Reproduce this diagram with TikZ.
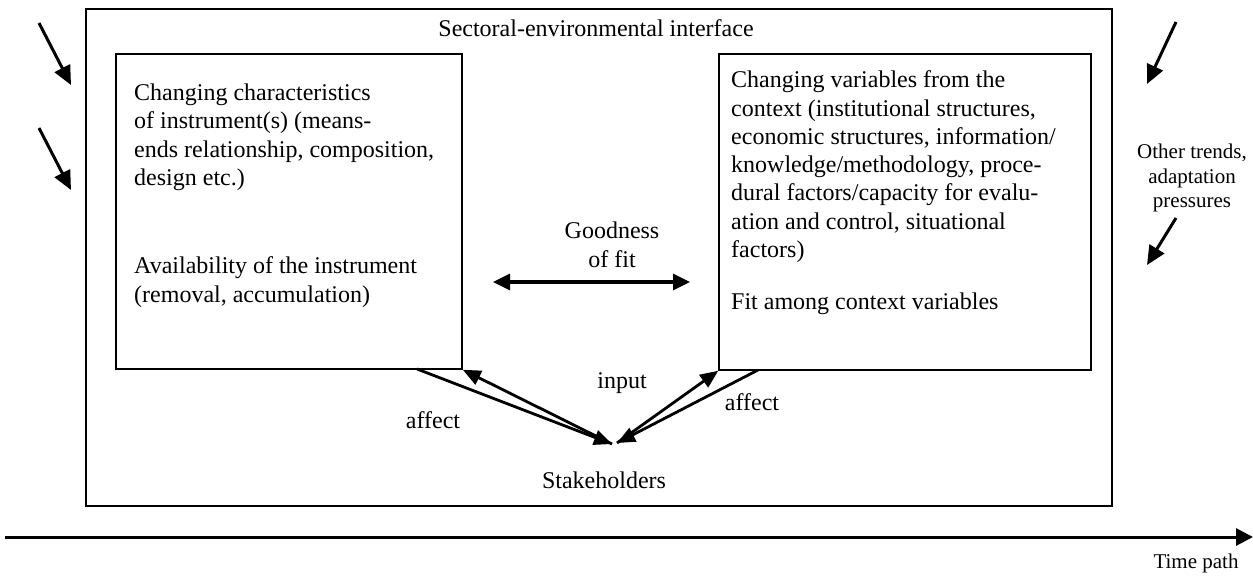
\documentclass[tikz,border=0pt]{standalone}
\usepackage{fontspec}
\setmainfont{Liberation Serif}
\usetikzlibrary{arrows.meta}
\begin{document}
\begin{tikzpicture}[x=1pt,y=-1pt,
  box/.style={draw=black,line width=1.5pt,inner sep=0pt,fill=none},
  txt/.style={inner sep=0pt,font=\fontsize{24}{28.3}\selectfont},
  para/.style={txt,align=left,anchor=north west},
  thickarrow/.style={line width=3pt,-{Triangle[length=19pt,width=17pt]}},
  linkarrow/.style={line width=2.8pt,-{Triangle[length=18pt,width=15pt]}},
  fitarrow/.style={line width=3.2pt,{Triangle[length=17pt,width=16pt]}-{Triangle[length=17pt,width=16pt]}}
]
\useasboundingbox (0,0) rectangle (1253,576);
% boxes
\node[box,minimum width=1026pt,minimum height=497pt] (outer) at (599,257.5) {};
\node[box,minimum width=346pt,minimum height=315pt] (lb) at (289,211.5) {};
\node[box,minimum width=372pt,minimum height=316pt] (rb) at (905,212) {};
% texts
\node[txt,anchor=base] (title) at (596,36) {Sectoral-environmental interface};
\node[para] (l1) at (134,83.6) {Changing characteristics\\of instrument(s) (means-\\ends relationship, composition,\\design etc.)};
\node[para] (l2) at (134,256.6) {Availability of the instrument\\(removal, accumulation)};
\node[para] (r1) at (731,70.6) {Changing variables from the\\context (institutional structures,\\economic structures, information/\\knowledge/methodology, proce-\\dural factors/capacity for evalu-\\ation and control, situational\\factors)};
\node[para] (r2) at (731,292.6) {Fit among context variables};
\node[txt,anchor=base,align=center] (gof) at (612,267) {Goodness\\of fit};
\node[txt,anchor=base] (input) at (622,388) {input};
\node[txt,anchor=base] (affl) at (433,428) {affect};
\node[txt,anchor=base] (affr) at (752,410) {affect};
\node[txt,anchor=base] (stake) at (604,488) {Stakeholders};
\node[txt,anchor=base,font=\fontsize{21}{25}\selectfont] (time) at (1196,568) {Time path};
\node[txt,align=center,anchor=north,font=\fontsize{21}{24.5}\selectfont] (other) at (1192,144) {Other trends,\\adaptation\\pressures};
% goodness of fit arrow
\coordinate (gfl) at (493,282);
\coordinate (gfr) at (690,282);
\draw[fitarrow] (gfl) -- (gfr);
% stakeholder arrows
\coordinate (sk) at (612,444);
\coordinate (skb) at (617,443);
\coordinate (la) at (417,369);
\coordinate (ra) at (758,370);
\draw[linkarrow] (la) -- (sk);
\draw[linkarrow] (sk) -- (lb.south east);
\draw[linkarrow] (skb) -- (rb.south west);
\draw[linkarrow] (ra) -- (skb);
% outside trend arrows
\coordinate (a1s) at (39,23);  \coordinate (a1e) at (71,85);
\coordinate (a2s) at (39,128); \coordinate (a2e) at (71,190);
\coordinate (a3s) at (1176,22); \coordinate (a3e) at (1147,84);
\coordinate (a4s) at (1176,218); \coordinate (a4e) at (1147,265);
\draw[thickarrow] (a1s) -- (a1e);
\draw[thickarrow] (a2s) -- (a2e);
\draw[thickarrow] (a3s) -- (a3e);
\draw[thickarrow] (a4s) -- (a4e);
% time path
\coordinate (t0) at (5,537);
\coordinate (t1) at (1253,537);
\draw[line width=3pt,-{Triangle[length=17pt,width=17pt]}] (t0) -- (t1);
\end{tikzpicture}
\end{document}
